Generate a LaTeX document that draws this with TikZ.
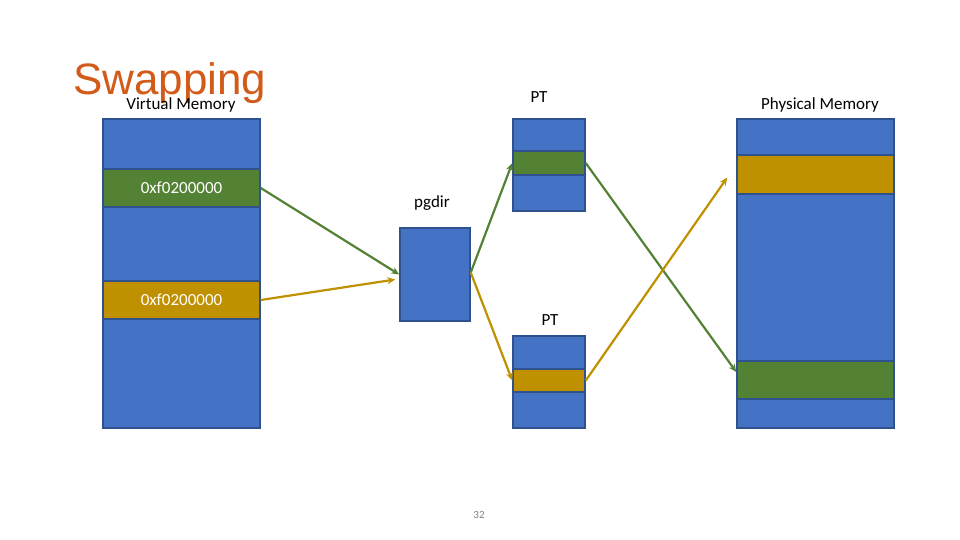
\documentclass[tikz,border=0pt]{standalone}
\usepackage{fontspec}
\setmainfont{Carlito}
\newfontfamily\titlefont{Liberation Sans}
\usetikzlibrary{arrows.meta,positioning}
\definecolor{Blue}{HTML}{4472C4}
\definecolor{Edge}{HTML}{2F528F}
\definecolor{Green}{HTML}{548235}
\definecolor{Gold}{HTML}{BF9000}
\definecolor{Title}{HTML}{D35B1A}
\definecolor{PageNum}{HTML}{808080}
\tikzset{
  block/.style={draw=Edge,fill=Blue,line width=1.5pt,inner sep=0pt},
  band/.style={block,fill=#1,text=white,font=\fontsize{17}{20}\selectfont},
  lbl/.style={anchor=base,inner sep=0pt,font=\fontsize{17}{20}\selectfont},
  link/.style={#1,line width=2.2pt,-{Stealth[length=8pt,width=7pt]}}
}
\begin{document}
\begin{tikzpicture}[x=1pt,y=-1pt]
  \useasboundingbox (0,0) rectangle (960,540);
  % virtual memory
  \node[block,minimum width=157pt,minimum height=309pt] (vmem) at (181.5,273.5) {};
  \node[band=Green,minimum width=157pt,minimum height=38pt] (vgreen) at (181.5,188) {0xf0200000};
  \node[band=Gold,minimum width=157pt,minimum height=38pt] (vgold) at (181.5,300) {0xf0200000};
  % pgdir and page tables
  \node[block,minimum width=70pt,minimum height=93pt] (pgdir) at (435,274.5) {};
  \node[block,minimum width=72pt,minimum height=92pt] (pttop) at (549,165) {};
  \node[band=Green,minimum width=72pt,minimum height=24pt] (ptgreen) at (549,163) {};
  \node[block,minimum width=72pt,minimum height=92pt] (ptbot) at (549,382) {};
  \node[band=Gold,minimum width=72pt,minimum height=23pt] (ptgold) at (549,380.5) {};
  % physical memory
  \node[block,minimum width=157pt,minimum height=309pt] (pmem) at (815.5,273.5) {};
  \node[band=Gold,minimum width=157pt,minimum height=39pt] (pgold) at (815.5,174.5) {};
  \node[band=Green,minimum width=157pt,minimum height=38pt] (pgreen) at (815.5,380) {};
  % labels
  \node[anchor=base west,inner sep=0pt,text=Title,font=\titlefont\fontsize{44}{44}\selectfont] (title) at (73,95) {Swapping};
  \node[lbl] (vlbl) at (181,110) {Virtual Memory};
  \node[lbl] (ptlbl) at (539,103) {PT};
  \node[lbl] (pgdirlbl) at (432,207) {pgdir};
  \node[lbl] (ptlbltwo) at (550,325) {PT};
  \node[lbl] (pmemlbl) at (820,110) {Physical Memory};
  \node[anchor=base,inner sep=0pt,text=PageNum,font=\fontsize{11}{12}\selectfont] (pgnum) at (479,518) {32};
  % mappings
  \draw[link=Green] (vgreen.east) -- (pgdir.west);
  \draw[link=Gold] (vgold.east) -- ([xshift=-4pt,yshift=-5pt]pgdir.west);
  \draw[link=Green] ([yshift=2pt]pgdir.east) -- (ptgreen.west);
  \draw[link=Gold] ([yshift=2pt]pgdir.east) -- (ptgold.west);
  \draw[link=Green] (ptgreen.east) -- ([yshift=8pt]pgreen.west);
  \draw[link=Gold] (ptgold.east) -- ([xshift=-9pt,yshift=-3pt]pgold.west);
\end{tikzpicture}
\end{document}
